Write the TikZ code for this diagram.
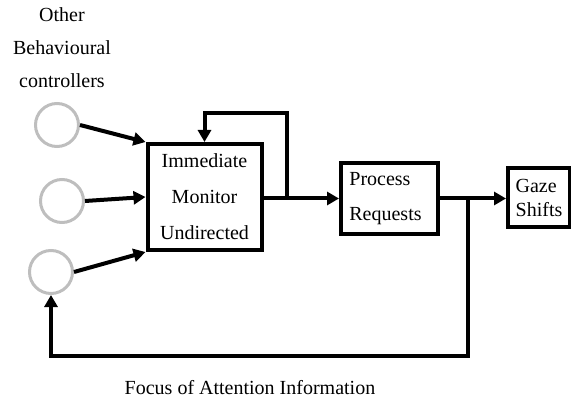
\documentclass[tikz,border=0pt]{standalone}
\usepackage{fontspec}
\setmainfont{Liberation Serif}
\usepackage{xcolor}
\definecolor{ctrlGray}{HTML}{BEBEBE}
\definecolor{lineDark}{HTML}{000000}
\usepackage{tikz}
\usetikzlibrary{arrows.meta,positioning,calc}
\tikzset{
    block/.style={
        draw=lineDark,
        rectangle,
        line width=2pt,
        inner sep=0pt,
        font=\fontsize{10pt}{11pt}\selectfont
    },
    source/.style={
        draw=ctrlGray,
        circle,
        line width=1.5pt,
        minimum size=21.5pt,
        inner sep=0pt
    },
    arrow/.style={
        -{Triangle[length=6pt,width=6.5pt]},
        line width=2pt,
        color=lineDark
    },
    wire/.style={
        line width=2pt,
        color=lineDark
    },
    caption/.style={
        align=center,
        inner sep=0pt,
        font=\fontsize{10pt}{16.5pt}\selectfont
    }
}

\begin{document}
\begin{tikzpicture}[x=0.5pt,y=-0.5pt]
    \useasboundingbox (0,0) rectangle (571,405);

    % Behavioural controllers
    \node[caption] (ctrllabel) at (62,48) {Other\\Behavioural\\controllers};
    \node[source] (circa) at (57,125) {};
    \node[source] (circb) at (62,201) {};
    \node[source] (circc) at (51,272) {};

    % Processing chain
    \node[block, minimum width=57pt, minimum height=53pt, align=center,
        font=\fontsize{10pt}{18pt}\selectfont] (monitor) at (204.5,197)
        {Immediate\\Monitor\\Undirected};
    \node[block, minimum width=48.5pt, minimum height=35.5pt, align=left,
        font=\fontsize{10pt}{17.5pt}\selectfont] (process) at (389.5,198.5)
        {Process\\Requests\hspace*{4pt}};
    \node[block, minimum width=31pt, minimum height=29.5pt, align=left,
        font=\fontsize{10pt}{12pt}\selectfont] (gaze) at (539,197.5)
        {Gaze\\Shifts};

    % Junction points
    \coordinate (loopout) at (287,198.5);
    \coordinate (looptop) at (287,113);
    \coordinate (split) at (468,198.5);
    \coordinate (bottom) at (468,356);

    % Arrows
    \draw[arrow] (circa.east) -- (monitor.north west);
    \draw[arrow] (circb.east) -- (monitor.west);
    \draw[arrow] (circc.east) -- (monitor.south west);
    \draw[arrow] (monitor.east |- loopout) -- (process.west);
    \draw[arrow] (loopout) -- (looptop) -| (monitor.north);
    \draw[arrow] (process.east |- split) -- (gaze.west |- split);
    \draw[arrow] (split) -- (bottom) -| (circc.south);

    \node[caption] (focus) at (250,388) {Focus of Attention Information};
\end{tikzpicture}
\end{document}
